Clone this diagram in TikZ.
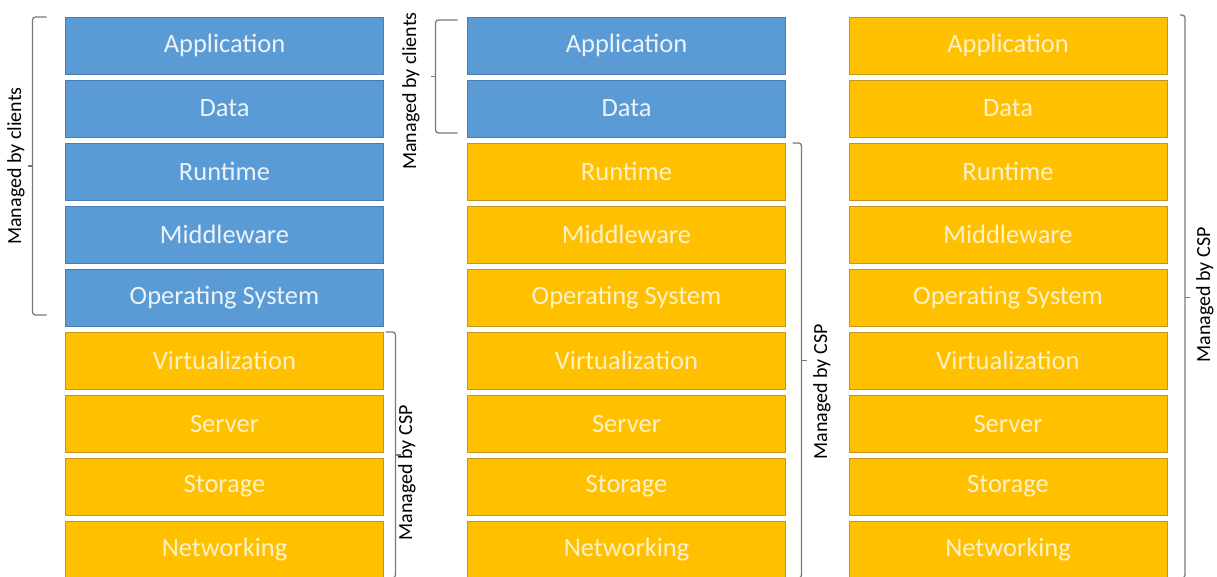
\documentclass[tikz,border=0pt]{standalone}
\usepackage{fontspec}
\setmainfont{Carlito}
\usetikzlibrary{calc, positioning}
\definecolor{clientblue}{RGB}{91,155,213}
\definecolor{clientedge}{RGB}{72,125,178}
\definecolor{cspgold}{RGB}{255,192,0}
\definecolor{cspedge}{RGB}{196,150,30}
\definecolor{bracegray}{RGB}{120,120,120}

\begin{document}
\begin{tikzpicture}[
        x=1pt, y=-1pt,
        node distance=6pt,
        layer/.style={rectangle, minimum width=318pt, minimum height=57pt, inner sep=0pt, outer sep=0pt, line width=0.8pt, font=\fontsize{26.5}{30}\selectfont},
        client/.style={layer, fill=clientblue, draw=clientedge, text=white!88!clientblue},
        csp/.style={layer, fill=cspgold, draw=cspedge, text=white!78!cspgold},
        brk/.style={draw=bracegray, line width=1.3pt, rounded corners=3pt},
        tick/.style={draw=bracegray, line width=1.3pt},
        lbl/.style={rotate=90, inner sep=1pt, font=\fontsize{20}{24}\selectfont}
    ]
    \useasboundingbox (0,0) rectangle (1217,576);

    \node[client] (app1) at (224.5,45.5) {Application};
    \node[client] (data1) [below=of app1] {Data};
    \node[client] (run1) [below=of data1] {Runtime};
    \node[client] (mid1) [below=of run1] {Middleware};
    \node[client] (os1) [below=of mid1] {Operating System};
    \node[csp] (virt1) [below=of os1] {Virtualization};
    \node[csp] (srv1) [below=of virt1] {Server};
    \node[csp] (stor1) [below=of srv1] {Storage};
    \node[csp] (net1) [below=of stor1] {Networking};

    \node[client] (app2) at (626.5,45.5) {Application};
    \node[client] (data2) [below=of app2] {Data};
    \node[csp] (run2) [below=of data2] {Runtime};
    \node[csp] (mid2) [below=of run2] {Middleware};
    \node[csp] (os2) [below=of mid2] {Operating System};
    \node[csp] (virt2) [below=of os2] {Virtualization};
    \node[csp] (srv2) [below=of virt2] {Server};
    \node[csp] (stor2) [below=of srv2] {Storage};
    \node[csp] (net2) [below=of stor2] {Networking};

    \node[csp] (app3) at (1008,45.5) {Application};
    \node[csp] (data3) [below=of app3] {Data};
    \node[csp] (run3) [below=of data3] {Runtime};
    \node[csp] (mid3) [below=of run3] {Middleware};
    \node[csp] (os3) [below=of mid3] {Operating System};
    \node[csp] (virt3) [below=of os3] {Virtualization};
    \node[csp] (srv3) [below=of virt3] {Server};
    \node[csp] (stor3) [below=of srv3] {Storage};
    \node[csp] (net3) [below=of stor3] {Networking};

    \draw[brk] ([xshift=-19pt]app1.north west) -- ++(-14,0) |- ([xshift=-19pt,yshift=11pt]os1.south west);
    \draw[tick] ($(app1.north west)!0.5!([yshift=11pt]os1.south west)$) ++(-33,0) -- ++(-5,0);
    \node[lbl] (cli1) at (16,166) {Managed by clients};

    \draw[brk] ([xshift=2pt]virt1.north east) -- ++(10,0) |- ([xshift=2pt]net1.south east);
    \draw[tick] ($(virt1.north east)!0.5!(net1.south east)$) ++(12,0) -- ++(5,0);
    \node[lbl] (csp1) at (407,473) {Managed by CSP};

    \draw[brk] ([xshift=-10pt,yshift=-3pt]app2.north west) -- ++(-22,0) |- ([xshift=-10pt,yshift=4pt]data2.south west);
    \draw[tick] ($([yshift=-3pt]app2.north west)!0.5!([yshift=4pt]data2.south west)$) ++(-32,0) -- ++(-5,0);
    \node[lbl] (cli2) at (411,91) {Managed by clients};

    \draw[brk] ([xshift=7pt]run2.north east) -- ++(9,0) |- ([xshift=7pt]net2.south east);
    \draw[tick] ($(run2.north east)!0.5!(net2.south east)$) ++(16,0) -- ++(5,0);
    \node[lbl] (csp2) at (822,392) {Managed by CSP};

    \draw[brk] ([xshift=13pt,yshift=2pt]app3.north east) -- ++(5,0) |- ([xshift=13pt]net3.south east);
    \draw[tick] ($(app3.north east)!0.5!(net3.south east)$) ++(18,0) -- ++(5,0);
    \node[lbl] (csp3) at (1205,295) {Managed by CSP};
    \end{tikzpicture}
\end{document}
